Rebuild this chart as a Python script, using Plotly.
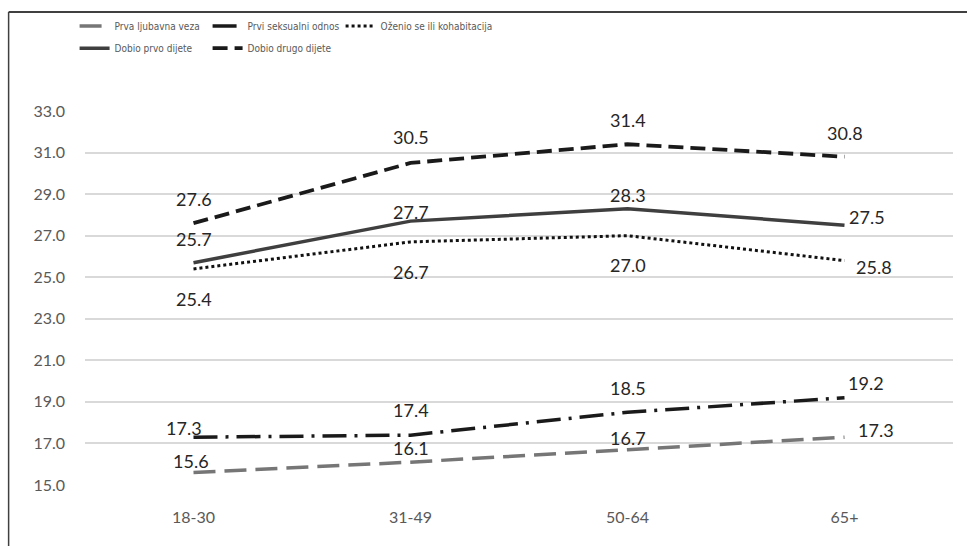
import plotly.graph_objects as go

# age groups and mean ages
categories = ["18-30", "31-49", "50-64", "65+"]
prva_veza = [15.6, 16.1, 16.7, 17.3]
prvi_odnos = [17.3, 17.4, 18.5, 19.2]
ozenio = [25.4, 26.7, 27.0, 25.8]
prvo_dijete = [25.7, 27.7, 28.3, 27.5]
drugo_dijete = [27.6, 30.5, 31.4, 30.8]

series = [
    # name, values, color, dash, width, legend, label shifts (x, y in px)
    ("Prva ljubavna veza", prva_veza, "#767676", "22px,9px", 3.5, "legend",
     [(-3, 12), (0, 14), (0, 12), (31, 7)]),
    ("Prvi seksualni odnos", prvi_odnos, "#1a1a1a", "24px,8px,3px,8px", 3.5, "legend",
     [(-10, 9), (0, 25), (0, 24), (21, 15)]),
    ("Oženio se ili kohabitacija", ozenio, "#111111", "dot", 3, "legend",
     [(0, -30), (0, -30), (0, -29), (29, -6)]),
    ("Dobio prvo dijete", prvo_dijete, "#3f3f3f", "solid", 3.5, "legend2",
     [(0, 24), (0, 9), (0, 14), (22, 8)]),
    ("Dobio drugo dijete", drugo_dijete, "#1a1a1a", "15px,7px", 3.8, "legend2",
     [(0, 24), (0, 26), (0, 24), (0, 24)]),
]

fig = go.Figure()
annotations = []
for name, vals, color, dash, width, leg, shifts in series:
    fig.add_trace(go.Scatter(x=categories, y=vals, name=name, mode="lines",
                             line=dict(color=color, dash=dash, width=width),
                             legend=leg))
    for c, v, (dx, dy) in zip(categories, vals, shifts):
        annotations.append(dict(x=c, y=v, text=f"{v:.1f}", showarrow=False,
                                xshift=dx, yshift=dy,
                                font=dict(family="Lato", size=18, color="#262626")))

# empty entries so the last real item of each legend row isn't clipped
for leg in ["legend", "legend2"]:
    fig.add_trace(go.Scatter(x=[None], y=[None], name=" ", mode="lines",
                             line=dict(width=0), legend=leg, hoverinfo="skip"))

legend_style = dict(orientation="h", xanchor="left", yanchor="middle",
                    x=-0.012, bgcolor="rgba(0,0,0,0)", itemwidth=30,
                    entrywidth=88, entrywidthmode="pixels",
                    font=dict(family="Liberation Sans Narrow, DejaVu Sans Condensed, sans-serif",
                              size=10, color="#595959"))

fig.update_layout(
    width=967, height=546,
    margin=dict(l=85, r=14, t=111, b=61),
    plot_bgcolor="white", paper_bgcolor="white",
    showlegend=True,
    legend=dict(legend_style, y=1.227),
    legend2=dict(legend_style, y=1.168),
    annotations=annotations,
    xaxis=dict(range=[-0.5, 3.5], showgrid=False, showline=False, zeroline=False,
               ticks="", ticklabelstandoff=21,
               tickfont=dict(family="Lato", size=16, color="#595959")),
    yaxis=dict(range=[15, 33], tickvals=list(range(15, 34, 2)), tickformat=".1f",
               showgrid=True, gridcolor="#d9d9d9", gridwidth=2, zeroline=False,
               showline=False, ticks="", ticklabelstandoff=19,
               tickfont=dict(family="Lato", size=16, color="#595959")),
    shapes=[
        dict(type="line", xref="paper", yref="paper", x0=-0.088, x1=1.1,
             y0=1.265, y1=1.265, line=dict(color="#404040", width=2)),
        dict(type="line", xref="paper", yref="paper", x0=-0.088, x1=-0.088,
             y0=1.265, y1=-0.3, line=dict(color="#404040", width=1.5)),
    ],
)

# drop the page's default body margin so the figure sits at the window origin
fig.write_html("out.html", config={"displayModeBar": False},
               post_script="document.body.style.margin='0';"
                           "document.body.style.overflow='hidden';")
